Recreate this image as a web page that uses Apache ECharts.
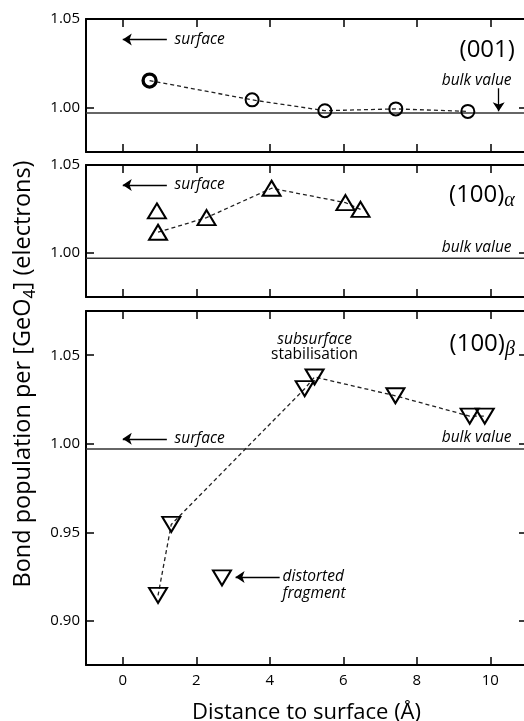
<!DOCTYPE html>
<html>
<head>
<meta charset="utf-8">
<script src="https://cdn.jsdelivr.net/npm/echarts@6/dist/echarts.min.js"></script>
<style>html,body{margin:0;padding:0;background:#fff;overflow:hidden;}#c{width:524px;height:721px;}</style>
</head>
<body>
<div id="c"></div>
<script>
// ---- data ----
const xTicks = [0, 2, 4, 6, 8, 10];
const yTicksTop = [1.00, 1.05];
const yTicksMid = [1.00, 1.05];
const yTicksBot = [0.90, 0.95, 1.00, 1.05];
const xRange = [-1, 11];
const bulkValue = 0.997;

// (001) surface
const s001X = [0.73, 3.52, 5.50, 7.43, 9.39];
const s001Y = [1.0153, 1.0044, 0.9983, 0.9993, 0.9979];

// (100) alpha surface
const sAlphaX = [0.96, 2.28, 4.05, 6.06, 6.47];
const sAlphaY = [1.0118, 1.0201, 1.0368, 1.0286, 1.0248];
const sAlphaExtraX = [0.93];
const sAlphaExtraY = [1.0239];

// (100) beta surface
const sBetaX = [0.96, 1.32, 4.95, 5.22, 7.42, 9.44, 9.85];
const sBetaY = [0.9143, 0.9544, 1.0311, 1.0377, 1.0271, 1.0156, 1.0156];
const sBetaDistX = [2.70];
const sBetaDistY = [0.9242];

// ---- annotations (data coordinates) ----
const notesTop = [
  {x: 1.41, y: 1.0385, text: 'surface', kind: 'it', align: 'left'},
  {x: 10.67, y: 1.0324, text: '{n|(001)}', kind: 'big', align: 'right'},
  {x: 9.63, y: 1.0153, text: 'bulk value', kind: 'it', align: 'center'}
];
const arrowsTop = [[[1.2, 1.0385], [0, 1.0385]], [[10.23, 1.0110], [10.23, 0.9980]]];
const notesMid = [
  {x: 1.41, y: 1.0386, text: 'surface', kind: 'it', align: 'left'},
  {x: 10.67, y: 1.0330, text: '{n|(100)}{s|α}', kind: 'big', align: 'right'},
  {x: 9.63, y: 1.0031, text: 'bulk value', kind: 'it', align: 'center'}
];
const arrowsMid = [[[1.2, 1.0386], [0, 1.0386]]];
const notesBot = [
  {x: 1.41, y: 1.0028, text: 'surface', kind: 'it', align: 'left'},
  {x: 10.67, y: 1.0565, text: '{n|(100)}{s|β}', kind: 'big', align: 'right'},
  {x: 9.63, y: 1.0036, text: 'bulk value', kind: 'it', align: 'center'},
  {x: 5.22, y: 1.0590, text: 'subsurface', kind: 'it', align: 'center'},
  {x: 5.22, y: 1.0503, text: 'stabilisation', kind: 'rm', align: 'center'},
  {x: 4.35, y: 0.9250, text: 'distorted', kind: 'it', align: 'left'},
  {x: 4.35, y: 0.9153, text: 'fragment', kind: 'it', align: 'left'}
];
const arrowsBot = [[[1.2, 1.0028], [0, 1.0028]], [[4.27, 0.9247], [3.07, 0.9247]]];

// ---- build ----
const FONT = 'Open Sans';
const INK = '#000';
const zip = (xs, ys) => xs.map((x, i) => [x, ys[i]]);

const grids = [
  {left: 86, right: -3, top: 19, height: 133, outerBoundsMode: 'none', containLabel: false},
  {left: 86, right: -3, top: 165, height: 132, outerBoundsMode: 'none', containLabel: false},
  {left: 86, right: -3, top: 311, height: 354, outerBoundsMode: 'none', containLabel: false}
];
const yRanges = [[0.975, 1.05, yTicksTop], [0.975, 1.05, yTicksMid], [0.875, 1.075, yTicksBot]];

const xAxes = [], yAxes = [];
grids.forEach((g, i) => {
  ['bottom', 'top'].forEach(pos => {
    const isLabel = (i === 2 && pos === 'bottom');
    xAxes.push({
      type: 'value', gridIndex: i, position: pos, min: xRange[0], max: xRange[1],
      axisLine: {show: true, onZero: false, lineStyle: {color: INK, width: 2}},
      axisTick: {show: true, inside: true, length: 8, customValues: xTicks, lineStyle: {color: INK, width: 1.5}},
      axisLabel: {show: isLabel, customValues: xTicks, color: INK, fontFamily: FONT, fontSize: 15, margin: 8},
      splitLine: {show: false},
      name: isLabel ? 'Distance to surface (Å)' : '',
      nameLocation: 'middle', nameGap: 37,
      nameTextStyle: {color: INK, fontFamily: FONT, fontSize: 22}
    });
  });
  const [mn, mx, ticks] = yRanges[i];
  ['left', 'right'].forEach(pos => {
    yAxes.push({
      type: 'value', gridIndex: i, position: pos, min: mn, max: mx,
      axisLine: {show: pos === 'left', onZero: false, lineStyle: {color: INK, width: 2}},
      axisTick: {show: true, inside: true, length: 8, customValues: ticks, lineStyle: {color: INK, width: 1.5}},
      axisLabel: {show: pos === 'left', customValues: ticks, color: INK, fontFamily: FONT, fontSize: 15, margin: 6,
        formatter: v => v.toFixed(2)},
      splitLine: {show: false}
    });
  });
});

const markerStyle = (w) => ({color: 'rgba(255,255,255,0)', borderColor: INK, borderWidth: w, opacity: 1});
const dash = {color: '#222', width: 1.3, type: [4, 3]};

function lineSeries(gi, data, symbol, size, rot) {
  return {
    type: 'line', xAxisIndex: gi * 2, yAxisIndex: gi * 2, data: data,
    symbol: symbol, symbolSize: size, symbolRotate: rot, showAllSymbol: true,
    lineStyle: dash, itemStyle: markerStyle(2), silent: true, animation: false, z: 3
  };
}
function scatterSeries(gi, data, symbol, size, rot) {
  return {
    type: 'scatter', xAxisIndex: gi * 2, yAxisIndex: gi * 2, data: data,
    symbol: symbol, symbolSize: size, symbolRotate: rot,
    itemStyle: markerStyle(2), silent: true, animation: false, z: 3
  };
}
function bulkSeries(gi) {
  return {
    type: 'line', xAxisIndex: gi * 2, yAxisIndex: gi * 2,
    data: xRange.map(x => [x, bulkValue]), symbol: 'none',
    lineStyle: {type: 'solid', color: '#333', width: 1.6}, silent: true, animation: false, z: 2
  };
}
function arrowSeries(gi, arrows) {
  return {
    type: 'lines', coordinateSystem: 'cartesian2d', xAxisIndex: gi * 2, yAxisIndex: gi * 2,
    data: arrows.map(a => ({coords: a})),
    symbol: ['none', 'arrow'], symbolSize: 9,
    lineStyle: {color: INK, width: 1.3, opacity: 1, type: 'solid', curveness: 0},
    silent: true, animation: false, z: 4
  };
}
function noteSeries(gi, notes) {
  const data = notes.map(n => {
    const base = {
      show: true, position: 'inside', align: n.align, verticalAlign: 'middle',
      color: INK, opacity: 1, fontFamily: FONT, formatter: n.text
    };
    if (n.kind === 'it') Object.assign(base, {fontStyle: 'italic', fontSize: 15.5});
    if (n.kind === 'rm') Object.assign(base, {fontSize: 15.5});
    if (n.kind === 'big') Object.assign(base, {
      rich: {
        n: {fontFamily: FONT, fontSize: 24, color: INK, lineHeight: 32, verticalAlign: 'middle'},
        s: {fontFamily: 'Liberation Serif', fontStyle: 'italic', fontSize: 20, color: INK, lineHeight: 12, verticalAlign: 'bottom'}
      }
    });
    return {value: [n.x, n.y], label: base};
  });
  return {
    type: 'scatter', xAxisIndex: gi * 2, yAxisIndex: gi * 2, data: data,
    symbol: 'circle', symbolSize: 1, itemStyle: {color: 'rgba(0,0,0,0)', opacity: 1},
    silent: true, animation: false, z: 4
  };
}

const top1 = zip(s001X, s001Y).map((p, i) => i === 0 ? {value: p, itemStyle: markerStyle(3.3)} : p);
const series = [
  bulkSeries(0), arrowSeries(0, arrowsTop), noteSeries(0, notesTop),
  lineSeries(0, top1, 'circle', 13, 0),
  bulkSeries(1), arrowSeries(1, arrowsMid), noteSeries(1, notesMid),
  lineSeries(1, zip(sAlphaX, sAlphaY), 'triangle', [18, 15], 0),
  scatterSeries(1, zip(sAlphaExtraX, sAlphaExtraY), 'triangle', [18, 15], 0),
  bulkSeries(2), arrowSeries(2, arrowsBot), noteSeries(2, notesBot),
  lineSeries(2, zip(sBetaX, sBetaY), 'triangle', [18, 15], 180),
  scatterSeries(2, zip(sBetaDistX, sBetaDistY), 'triangle', [18, 15], 180)
];

const chart = echarts.init(document.getElementById('c'), null, {renderer: 'canvas'});
chart.setOption({
  animation: false,
  backgroundColor: '#fff',
  grid: grids,
  xAxis: xAxes,
  yAxis: yAxes,
  series: series,
  graphic: [{
    type: 'text', x: 23, y: 374, rotation: Math.PI / 2,
    style: {
      text: '{a|Bond population per [GeO}{s|4}{a|] (electrons)}',
      align: 'center', verticalAlign: 'middle',
      rich: {
        a: {fontFamily: FONT, fontSize: 23.5, fill: INK, color: INK, lineHeight: 30, verticalAlign: 'middle'},
        s: {fontFamily: FONT, fontSize: 16, fill: INK, color: INK, lineHeight: 14, verticalAlign: 'bottom'}
      }
    }
  }]
});
</script>
</body>
</html>
